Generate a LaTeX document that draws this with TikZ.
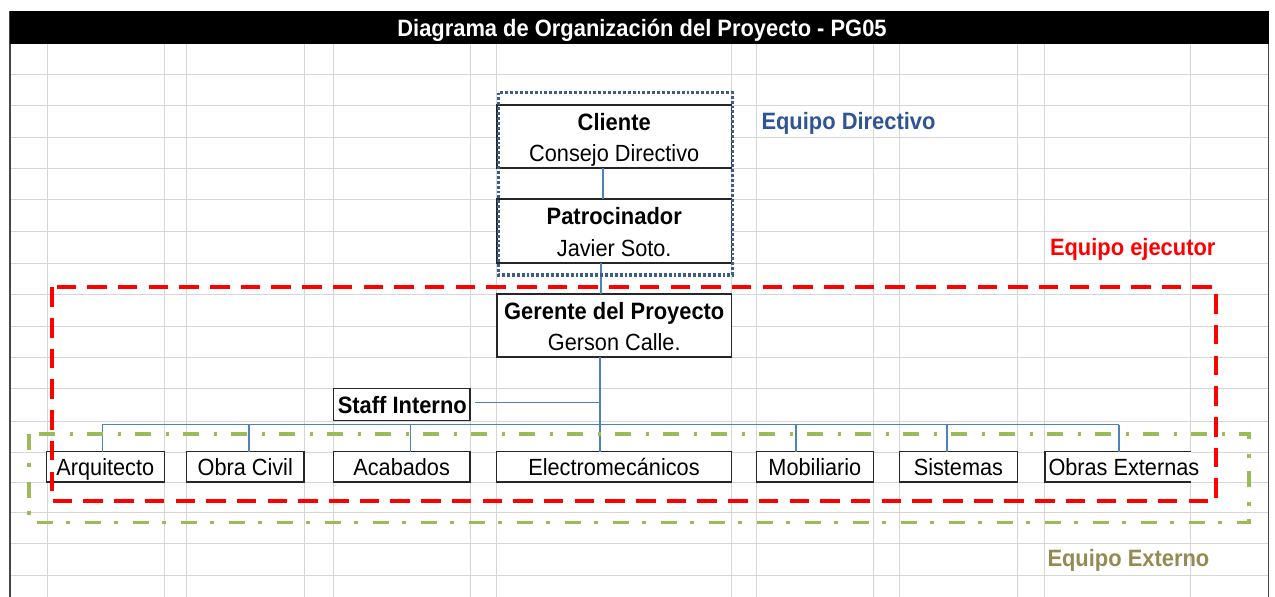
\documentclass[tikz,border=0pt]{standalone}
\usepackage{graphicx}
\usepackage{fontspec}
\setmainfont{Liberation Sans}
\definecolor{gridc}{RGB}{214,214,214}
\definecolor{borderc}{RGB}{70,70,70}
\definecolor{boxc}{RGB}{38,38,38}
\definecolor{connc}{RGB}{79,129,189}
\definecolor{dirc}{RGB}{60,92,140}
\definecolor{dirtext}{RGB}{46,84,150}
\definecolor{ejred}{RGB}{255,0,0}
\definecolor{exgreen}{RGB}{155,187,89}
\definecolor{khaki}{RGB}{148,138,84}
\newcommand{\tall}[1]{\scalebox{1}[1.08]{#1}}
\begin{document}
\begin{tikzpicture}[x=1pt,y=-1pt,
  box/.style={draw=boxc, line width=1.4pt, fill=white, inner sep=0pt, outer sep=0pt, rectangle},
  conn/.style={draw=connc, line width=1.2pt},
  txt/.style={anchor=base, inner sep=0pt, outer sep=0pt, font=\fontsize{21.7}{26}\selectfont},
  btxt/.style={anchor=base, inner sep=0pt, outer sep=0pt, font=\fontsize{21.9}{26}\selectfont\bfseries},
  gridline/.style={draw=gridc, line width=1pt},
  dirframe/.style={draw=dirc, line width=3.2pt, dash pattern=on 2.9pt off 2.0pt},
  ejframe/.style={draw=ejred, line width=4pt, dash pattern=on 19.5pt off 11.2pt},
  exframe/.style={draw=exgreen, line width=3.8pt, dash pattern=on 16pt off 13.5pt on 3.5pt off 15pt}]
\useasboundingbox (0,0) rectangle (1275,597);
\fill[white] (0,0) rectangle (1275,597);

% spreadsheet grid
\foreach \gx in {47,164.3,186.5,304,333.3,470,496.5,731.5,756.2,873.6,899.5,1017.3,1044.9,1190.6}
  \draw[gridline] (\gx,44) -- (\gx,597);
\foreach \gy in {74,105,137,168,199,231,263,294,326,357,388,421,452,482,512.5,543.5,575.5}
  \draw[gridline] (10,\gy) -- (1268.5,\gy);
\draw[draw=borderc, line width=1.2pt] (10,11) -- (10,597);
\draw[draw=borderc, line width=1.2pt] (1268.5,11) -- (1268.5,597);

% title bar
\fill[black] (10,11) rectangle (1269,44);
\node[btxt, text=white] (title) at (642,36) {\tall{Diagrama de Organización del Proyecto - PG05}};

\coordinate (bus) at (0,424.5);

% boxes
\node[box, minimum width=234.5pt, minimum height=63pt] (cliente) at (614.25,136.5) {};
\node[box, minimum width=234.5pt, minimum height=64pt] (patro) at (614.25,231) {};
\node[box, minimum width=234.5pt, minimum height=63pt] (gerente) at (614.25,325.5) {};
\node[box, minimum width=136.7pt, minimum height=32.4pt] (staff) at (401.65,404.5) {};
\node[box, minimum width=117.6pt, minimum height=30.3pt] (arq) at (105.5,466.85) {};
\node[box, minimum width=117.5pt, minimum height=30.3pt] (obra) at (245.25,466.85) {};
\node[box, minimum width=136.7pt, minimum height=30.3pt] (acab) at (401.65,466.85) {};
\node[box, minimum width=235pt, minimum height=30.3pt] (elec) at (614,466.85) {};
\node[box, minimum width=117.4pt, minimum height=30.3pt] (mob) at (814.9,466.85) {};
\node[box, minimum width=117.8pt, minimum height=30.3pt] (sist) at (958.4,466.85) {};
\node[box, draw=none, minimum width=145.7pt, minimum height=30.3pt] (obrext) at (1117.75,466.85) {};
\draw[draw=boxc, line width=1.4pt] (obrext.north east) -- (obrext.north west) -- (obrext.south west) -- (obrext.south east);

% connectors
\draw[conn] ([xshift=-11.25pt]cliente.south) -- ([xshift=-11.25pt]patro.north);
\draw[conn] ([xshift=-13.25pt]patro.south) -- ([xshift=-13.25pt]gerente.north);
\draw[conn] ([xshift=-14.25pt]gerente.south) -- ([xshift=-14pt]elec.north);
\draw[conn] ([xshift=5pt,yshift=1.8pt]staff.east) -- ([xshift=-14.25pt,yshift=1.8pt]gerente.south |- staff.east);
\draw[conn] ([xshift=-3.2pt]arq.north |- bus) -- ([xshift=1.25pt]obrext.north |- bus);
\draw[conn] ([xshift=-3.2pt]arq.north |- bus) -- ([xshift=-3.2pt]arq.north);
\draw[conn] ([xshift=3.75pt]obra.north |- bus) -- ([xshift=3.75pt]obra.north);
\draw[conn] ([xshift=9pt]acab.north |- bus) -- ([xshift=9pt]acab.north);
\draw[conn] ([xshift=-19pt]mob.north |- bus) -- ([xshift=-19pt]mob.north);
\draw[conn] ([xshift=-11.5pt]sist.north |- bus) -- ([xshift=-11.5pt]sist.north);
\draw[conn] ([xshift=1.25pt]obrext.north |- bus) -- ([xshift=1.25pt]obrext.north);

% box texts
\node[btxt] (t-cliente) at (614.25,130.5) {\tall{Cliente}};
\node[txt] (t-consejo) at (614.25,161.8) {\tall{Consejo Directivo}};
\node[btxt] (t-patro) at (614.25,224.5) {\tall{Patrocinador}};
\node[txt] (t-javier) at (614.25,256.5) {\tall{Javier Soto.}};
\node[btxt] (t-gerente) at (614.25,319) {\tall{Gerente del Proyecto}};
\node[txt] (t-gerson) at (614.25,350.5) {\tall{Gerson Calle.}};
\node[btxt] (t-staff) at (402.3,413) {\tall{Staff Interno}};
\node[txt] (t-arq) at (105.3,475.5) {\tall{Arquitecto}};
\node[txt] (t-obra) at (245.25,475.5) {\tall{Obra Civil}};
\node[txt] (t-acab) at (401.65,475.5) {\tall{Acabados}};
\node[txt] (t-elec) at (614,475.5) {\tall{Electromecánicos}};
\node[txt] (t-mob) at (814.9,475.5) {\tall{Mobiliario}};
\node[txt] (t-sist) at (958.4,475.5) {\tall{Sistemas}};
\node[txt, anchor=base west] (t-obrext) at (1048.5,475.5) {\tall{Obras Externas}};

% group frames
\draw[dirframe] (498.3,92.5) rectangle (732.3,275);
\draw[ejframe] (51.5,287.3) rectangle (1216.2,501);
\draw[exframe] (29.3,433.8) rectangle (1249.2,522.5);

% group labels
\node[btxt, anchor=base west, text=dirtext] (l-dir) at (761.5,129.5) {\tall{Equipo Directivo}};
\node[btxt, anchor=base west, text=ejred] (l-ej) at (1050,255.7) {\tall{Equipo ejecutor}};
\node[btxt, anchor=base west, text=khaki] (l-ex) at (1047.5,566.5) {\tall{Equipo Externo}};
\end{tikzpicture}
\end{document}
